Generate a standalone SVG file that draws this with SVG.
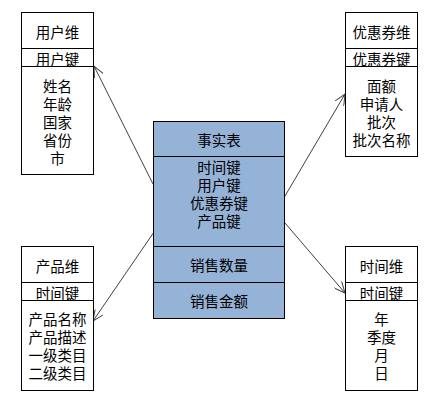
<svg xmlns="http://www.w3.org/2000/svg" width="445" height="405" viewBox="0 0 445 405">
<defs>
<style>
.box{fill:#fff;stroke:#000;stroke-width:1}
.fact{fill:#95B3D7;stroke:#000;stroke-width:1}
text{font-family:"Noto Sans CJK SC","Noto Sans CJK JP",sans-serif;font-size:14.5px;fill:#000;text-anchor:middle;dominant-baseline:central}
.con{stroke:#404040;stroke-width:1;fill:none;marker-end:url(#arr)}
</style>
<marker id="arr" viewBox="0 0 12 10" refX="11" refY="5" markerWidth="12" markerHeight="10" markerUnits="userSpaceOnUse" orient="auto">
<path d="M0,0 L11,5 L0,10" fill="none" stroke="#404040" stroke-width="1"/>
</marker>
</defs>
<rect width="445" height="405" fill="#fff"/>
<g id="connectors">
<line class="con" x1="153" y1="184" x2="94" y2="66"/>
<line class="con" x1="285" y1="196" x2="345" y2="94"/>
<line class="con" x1="154" y1="232" x2="93" y2="321"/>
<line class="con" x1="285" y1="223" x2="345" y2="293"/>
</g>
<g id="user-dim">
<rect class="box" x="21.5" y="12.5" width="72" height="162"/>
<line x1="21.5" y1="48.5" x2="93.5" y2="48.5" stroke="#000"/>
<line x1="21.5" y1="66.5" x2="93.5" y2="66.5" stroke="#000"/>
<text x="57.5" y="31">用户维</text>
<text x="57.5" y="58">用户键</text>
<text x="57.5" y="85">姓名</text>
<text x="57.5" y="103">年龄</text>
<text x="57.5" y="121">国家</text>
<text x="57.5" y="139">省份</text>
<text x="57.5" y="157">市</text>
</g>
<g id="coupon-dim">
<rect class="box" x="345.5" y="12.5" width="72" height="144"/>
<line x1="345.5" y1="48.5" x2="417.5" y2="48.5" stroke="#000"/>
<line x1="345.5" y1="66.5" x2="417.5" y2="66.5" stroke="#000"/>
<text x="381.5" y="31">优惠券维</text>
<text x="381.5" y="58">优惠券键</text>
<text x="381.5" y="85">面额</text>
<text x="381.5" y="103">申请人</text>
<text x="381.5" y="121">批次</text>
<text x="381.5" y="139">批次名称</text>
</g>
<g id="product-dim">
<rect class="box" x="21.5" y="246.5" width="72" height="144"/>
<line x1="21.5" y1="282.5" x2="93.5" y2="282.5" stroke="#000"/>
<line x1="21.5" y1="300.5" x2="93.5" y2="300.5" stroke="#000"/>
<text x="57.5" y="265">产品维</text>
<text x="57.5" y="292">时间键</text>
<text x="57.5" y="318">产品名称</text>
<text x="57.5" y="336">产品描述</text>
<text x="57.5" y="354">一级类目</text>
<text x="57.5" y="372">二级类目</text>
</g>
<g id="time-dim">
<rect class="box" x="345.5" y="246.5" width="72" height="144"/>
<line x1="345.5" y1="282.5" x2="417.5" y2="282.5" stroke="#000"/>
<line x1="345.5" y1="300.5" x2="417.5" y2="300.5" stroke="#000"/>
<text x="381.5" y="265">时间维</text>
<text x="381.5" y="292">时间键</text>
<text x="381.5" y="318">年</text>
<text x="381.5" y="336">季度</text>
<text x="381.5" y="354">月</text>
<text x="381.5" y="372">日</text>
</g>
<g id="fact-table">
<rect class="fact" x="153.5" y="121.5" width="131" height="197"/>
<line x1="153.5" y1="156.5" x2="284.5" y2="156.5" stroke="#000"/>
<line x1="153.5" y1="246.5" x2="284.5" y2="246.5" stroke="#000"/>
<line x1="153.5" y1="282.5" x2="284.5" y2="282.5" stroke="#000"/>
<text x="219" y="139">事实表</text>
<text x="219" y="166">时间键</text>
<text x="219" y="184">用户键</text>
<text x="219" y="202">优惠券键</text>
<text x="219" y="220">产品键</text>
<text x="219" y="264">销售数量</text>
<text x="219" y="300">销售金额</text>
</g>
</svg>
